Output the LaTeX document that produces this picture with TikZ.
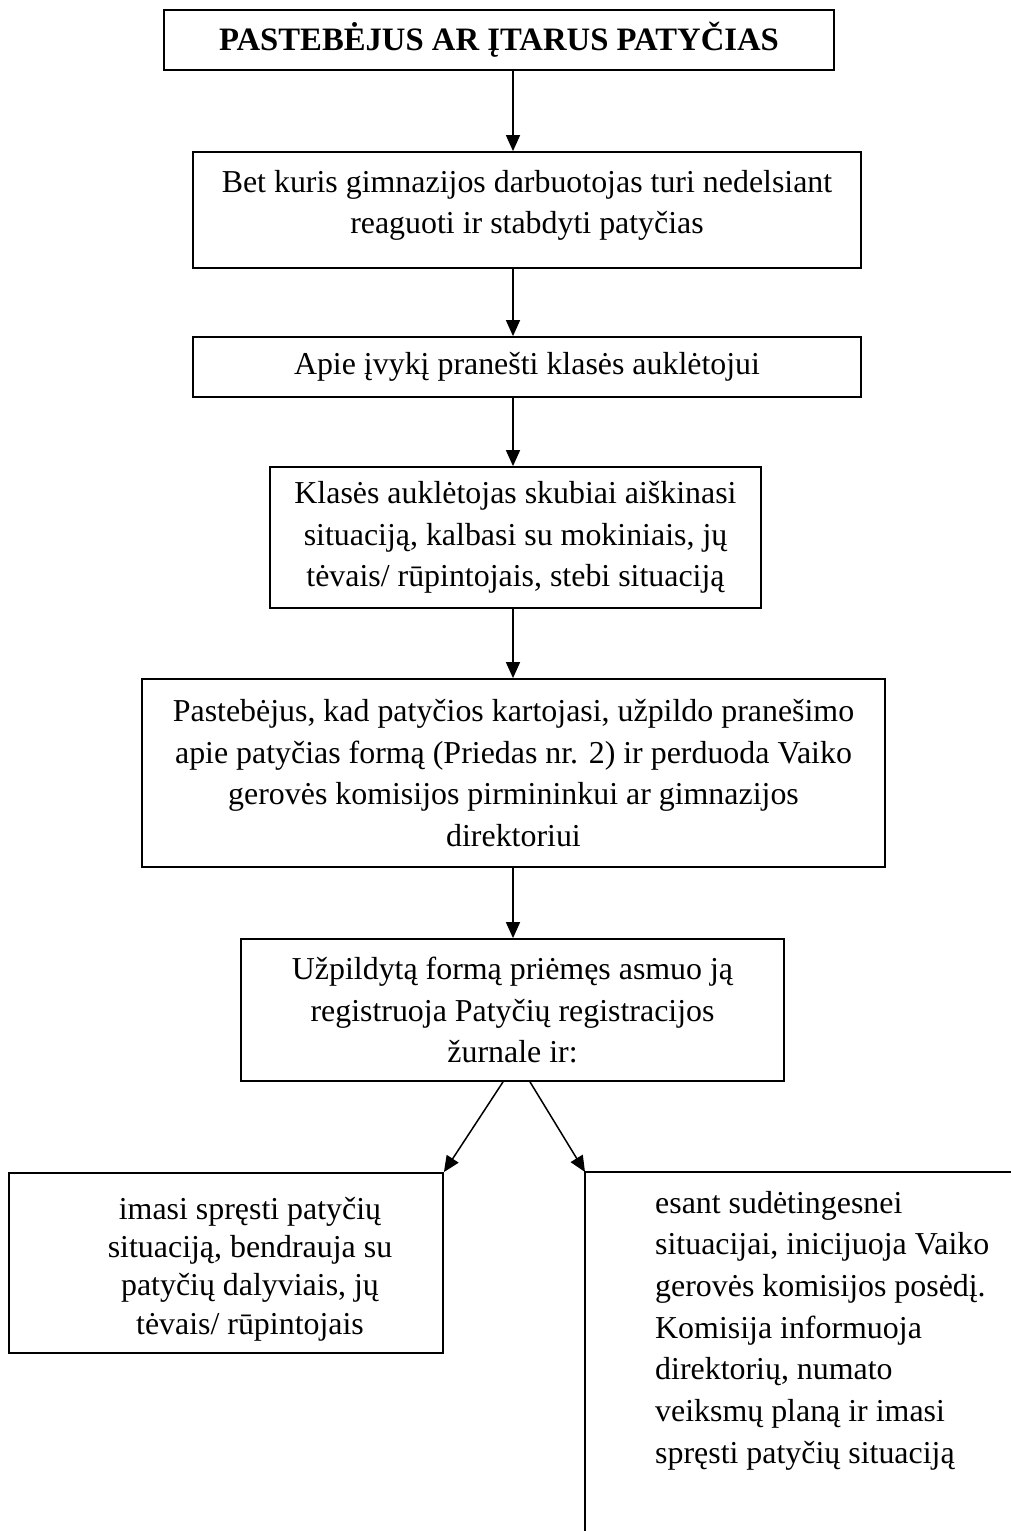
\documentclass[tikz,border=0pt]{standalone}
\usepackage{fontspec}
\setmainfont{Liberation Serif}
\usetikzlibrary{arrows.meta}
\begin{document}
\begin{tikzpicture}[x=1pt,y=-1pt,
  box/.style={draw, line width=1.8pt, inner sep=0pt, align=center, font=\fontsize{31.9}{41.7}\selectfont},
  txt/.style={inner sep=0pt, font=\fontsize{31.9}{41.7}\selectfont},
  arr/.style={line width=1.5pt, -{Triangle[length=16pt,width=14pt]}},
  edgeline/.style={line width=1.8pt}]
\useasboundingbox (0,0) rectangle (1011,1531);
\fill[white] (0,0) rectangle (1011,1531);
\node[box, minimum width=670pt, minimum height=60pt, font=\bfseries\fontsize{32.7}{41.7}\selectfont] (b1) at (499,40) {PASTEBĖJUS AR ĮTARUS PATYČIAS};
\node[box, minimum width=668pt, minimum height=116pt, text depth=16pt] (b2) at (527,210) {Bet kuris gimnazijos darbuotojas turi nedelsiant\\reaguoti ir stabdyti patyčias};
\node[box, minimum width=668pt, minimum height=60pt] (b3) at (527,367) {Apie įvykį pranešti klasės auklėtojui};
\node[box, minimum width=491pt, minimum height=141pt] (b4) at (515.5,537.5) {Klasės auklėtojas skubiai aiškinasi\\situaciją, kalbasi su mokiniais, jų\\tėvais/ rūpintojais, stebi situaciją};
\node[box, minimum width=743pt, minimum height=188pt] (b5) at (513.5,773) {Pastebėjus, kad patyčios kartojasi, užpildo pranešimo\\apie patyčias formą (Priedas nr. 2) ir perduoda Vaiko\\gerovės komisijos pirmininkui ar gimnazijos\\direktoriui};
\node[box, minimum width=543pt, minimum height=142pt] (b6) at (512.5,1010) {Užpildytą formą priėmęs asmuo ją\\registruoja Patyčių registracijos\\žurnale ir:};
\node[box, minimum width=434pt, minimum height=180pt] (lbox) at (226,1263) {};
\node[txt, align=center, font=\fontsize{31.9}{38.3}\selectfont] (ltext) at (250,1269) {imasi spręsti patyčių\\situaciją, bendrauja su\\patyčių dalyviais, jų\\tėvais/ rūpintojais};
\coordinate (rc) at (585,1172);
\draw[edgeline] (585,1531) -- (rc) -- (1011,1172);
\node[txt, anchor=west, align=left] (rtext) at (655,1330.6) {esant sudėtingesnei\\situacijai, inicijuoja Vaiko\\gerovės komisijos posėdį.\\Komisija informuoja\\direktorių, numato\\veiksmų planą ir imasi\\spręsti patyčių situaciją};
\coordinate (ax) at (513,0);
\draw[arr] (b1.south -| ax) -- (b2.north -| ax);
\draw[arr] (b2.south -| ax) -- (b3.north -| ax);
\draw[arr] (b3.south -| ax) -- (b4.north -| ax);
\draw[arr] (b4.south -| ax) -- (b5.north -| ax);
\draw[arr] (b5.south -| ax) -- (b6.north -| ax);
\draw[arr] ([xshift=-9.5pt]b6.south) -- (lbox.north east);
\draw[arr] ([xshift=17.5pt]b6.south) -- (rc);
\end{tikzpicture}
\end{document}
